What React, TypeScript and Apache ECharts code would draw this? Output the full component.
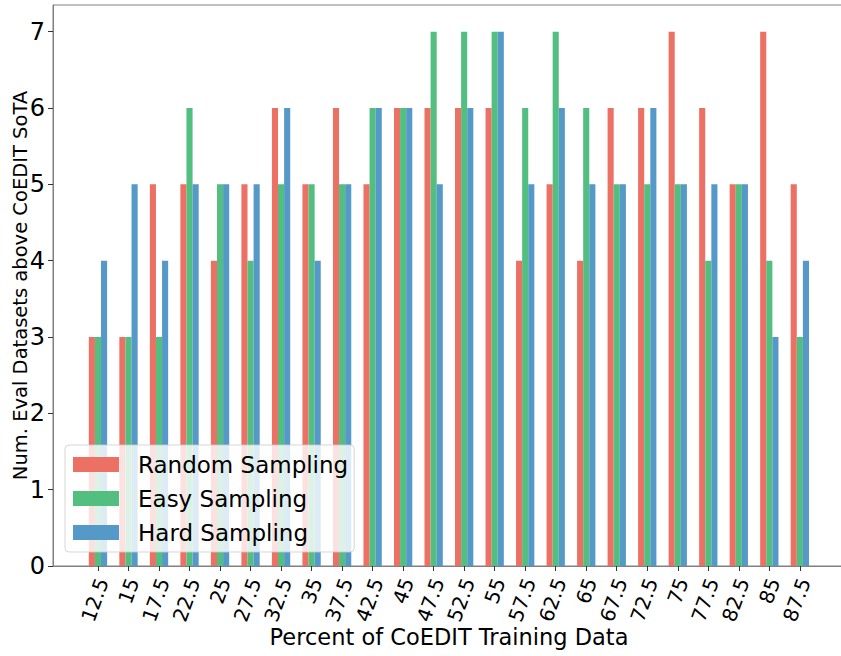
import React, { useEffect, useRef } from "react";
import * as echarts from "echarts";

const categories = [
  "12.5", "15", "17.5", "22.5", "25", "27.5", "32.5", "35", "37.5", "42.5", "45", "47.5",
  "52.5", "55", "57.5", "62.5", "65", "67.5", "72.5", "75", "77.5", "82.5", "85", "87.5",
];
const randomSampling = [3, 3, 5, 5, 4, 5, 6, 5, 6, 5, 6, 6, 6, 6, 4, 5, 4, 6, 6, 7, 6, 5, 7, 5];
const easySampling = [3, 3, 3, 6, 5, 4, 5, 5, 5, 6, 6, 7, 7, 7, 6, 7, 6, 5, 5, 5, 4, 5, 4, 3];
const hardSampling = [4, 5, 4, 5, 5, 5, 6, 4, 5, 6, 6, 5, 6, 7, 5, 6, 5, 5, 6, 5, 5, 5, 3, 4];
const yTicks = [0, 1, 2, 3, 4, 5, 6, 7];

const seriesDefs = [
  { name: "Random Sampling", values: randomSampling, color: "#EC7063" },
  { name: "Easy Sampling", values: easySampling, color: "#52BE80" },
  { name: "Hard Sampling", values: hardSampling, color: "#5499C7" },
];

const FONT = "DejaVu Sans";
const LABEL_SHIFT = 0.15;

export default function App() {
  const ref = useRef<HTMLDivElement>(null);
  useEffect(() => {
    if (!ref.current) return;
    const chart = echarts.init(ref.current, undefined, { renderer: "svg" });
    const idx = categories.map((_, i) => i);
    chart.setOption({
      animation: false,
      backgroundColor: "#ffffff",
      textStyle: { fontFamily: FONT, color: "#000" },
      grid: {
        left: 53,
        top: 5,
        width: 792,
        height: 561,
        outerBoundsMode: "none",
        containLabel: false,
        show: true,
        borderColor: "#808080",
        borderWidth: 1,
        backgroundColor: "transparent",
      },
      legend: {
        data: seriesDefs.map((s) => s.name),
        orient: "vertical",
        left: 65,
        top: 445,
        icon: "rect",
        itemWidth: 46,
        itemHeight: 15,
        itemGap: 11,
        padding: [8, 6, 8, 8],
        backgroundColor: "rgba(255,255,255,0.8)",
        borderColor: "rgba(204,204,204,0.8)",
        borderWidth: 1,
        borderRadius: 4,
        textStyle: {
          fontFamily: FONT,
          fontSize: 23,
          lineHeight: 23,
          color: "#000",
          padding: [0, 0, 0, 14],
        },
      },
      xAxis: {
        type: "value",
        min: -1.474,
        max: 24.48,
        name: "Percent of CoEDIT Training Data",
        nameLocation: "middle",
        nameGap: 59,
        nameMoveOverlap: false,
        nameTextStyle: { fontFamily: FONT, fontSize: 22.5, color: "#000" },
        axisLine: { show: true, onZero: false, lineStyle: { color: "#808080", width: 1 } },
        splitLine: { show: false },
        axisTick: {
          show: true,
          customValues: idx,
          length: 5,
          lineStyle: { color: "#333" },
        },
        axisLabel: {
          customValues: idx.map((i) => i + LABEL_SHIFT),
          formatter: (v: number) => categories[Math.round(v - LABEL_SHIFT)] ?? "",
          rotate: 70,
          fontSize: 20,
          fontFamily: FONT,
          color: "#000",
          margin: 13,
        },
      },
      yAxis: {
        type: "value",
        min: 0,
        max: 7.35,
        name: "Num. Eval Datasets above CoEDIT SoTA",
        nameLocation: "middle",
        nameGap: 23,
        nameMoveOverlap: false,
        nameRotate: 90,
        nameTextStyle: { fontFamily: FONT, fontSize: 19.5, color: "#000" },
        axisLine: { show: true, onZero: false, lineStyle: { color: "#808080", width: 1 } },
        splitLine: { show: false },
        axisTick: {
          show: true,
          customValues: yTicks,
          length: 5,
          lineStyle: { color: "#333" },
        },
        axisLabel: {
          customValues: yTicks,
          fontSize: 24,
          fontFamily: FONT,
          color: "#000",
          margin: 8,
        },
      },
      series: seriesDefs.map((s) => ({
        name: s.name,
        type: "bar",
        barWidth: 6.1,
        barGap: "0%",
        data: s.values.map((v, i) => [i, v]),
        itemStyle: { color: s.color },
      })),
    });
    return () => chart.dispose();
  }, []);
  return (
    <div
      ref={ref}
      style={{ position: "absolute", left: 0, top: 0, width: 841, height: 656 }}
    />
  );
}
